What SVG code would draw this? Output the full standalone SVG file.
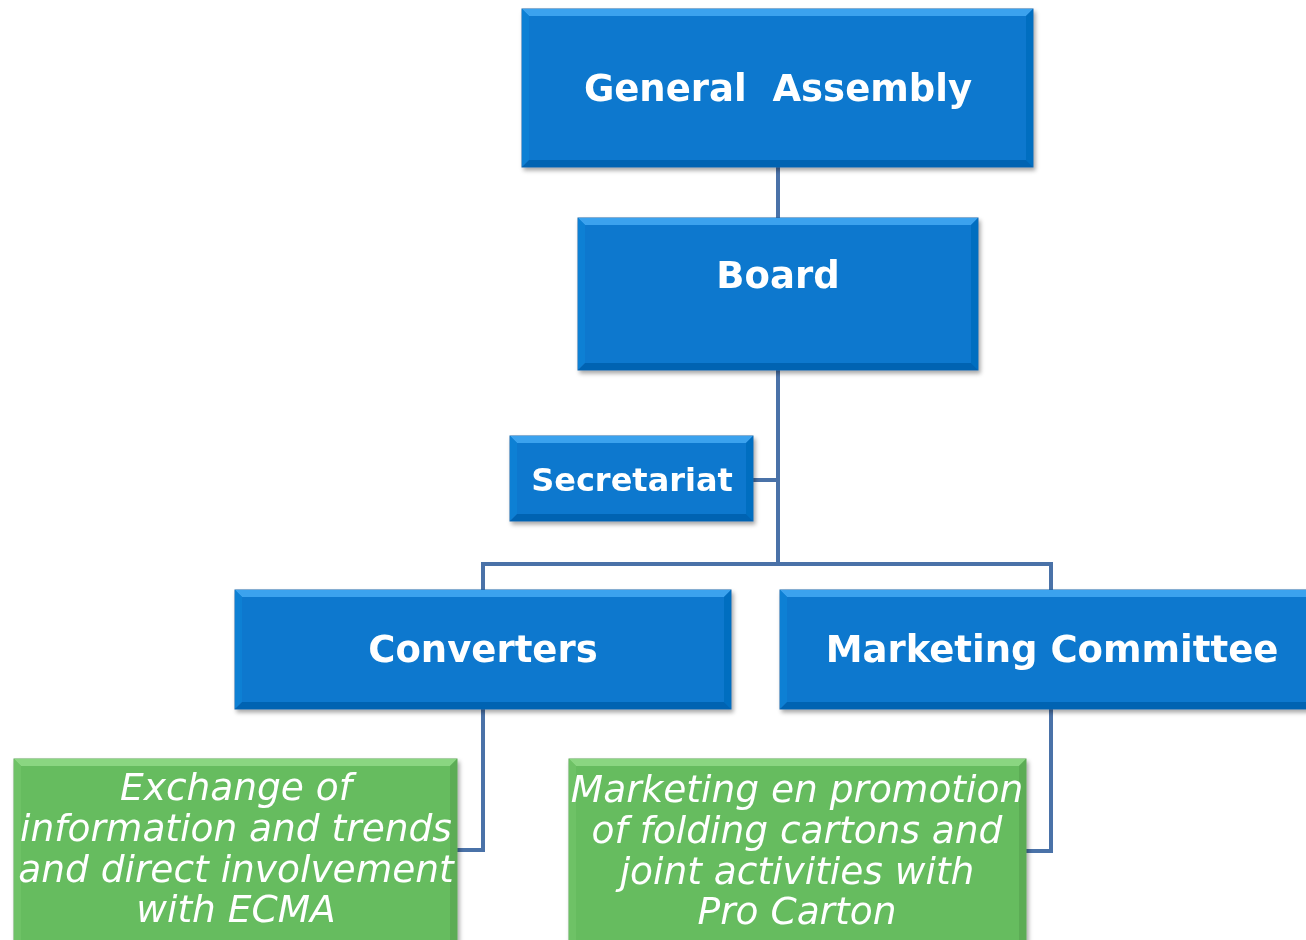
<svg xmlns="http://www.w3.org/2000/svg" width="1306" height="940" viewBox="0 0 1306 940">
<defs>
<filter id="sh" x="-5%" y="-5%" width="115%" height="120%">
<feDropShadow dx="2" dy="3" stdDeviation="2" flood-color="#000" flood-opacity="0.35"/>
</filter>
<style>
.bm{fill:#0778CE;stroke:#1565A8;stroke-width:1}
.bt{fill:#3AA2EE}.bl{fill:#0F80D4}.br{fill:#066EC0}.bb{fill:#0563B2}
.gm{fill:#66BC5F;stroke:#5AA452;stroke-width:1}
.gt{fill:#8AD681}.gl{fill:#6EC266}.gr{fill:#5BAC54}.gb{fill:#559F4E}
.lbl{font-family:"DejaVu Sans",Verdana,sans-serif;font-weight:bold;fill:#fff;text-anchor:middle}
.itl{font-family:"DejaVu Sans",Verdana,sans-serif;font-style:italic;fill:#fff;text-anchor:middle;font-size:37.5px}
.con{fill:none;stroke:#4A72A8;stroke-width:4}
</style>
</defs>
<rect width="1306" height="940" fill="#fff"/>
<g id="connectors">
<line class="con" x1="778" y1="167" x2="778" y2="218"/>
<line class="con" x1="778" y1="370" x2="778" y2="564"/>
<line class="con" x1="753" y1="480" x2="778" y2="480"/>
<polyline class="con" points="483,590 483,564 1051,564 1051,590"/>
<polyline class="con" points="483,709 483,850 457,850"/>
<polyline class="con" points="1051,709 1051,851 1026,851"/>
</g>
<g id="general-assembly" filter="url(#sh)">
<rect class="bm" x="522" y="9" width="511" height="158"/>
<polygon class="bt" points="522,9 1033,9 1026,16 529,16"/>
<polygon class="bl" points="522,9 529,16 529,160 522,167"/>
<polygon class="br" points="1033,9 1026,16 1026,160 1033,167"/>
<polygon class="bb" points="522,167 529,160 1026,160 1033,167"/>
<text class="lbl" x="778" y="101" font-size="37" xml:space="preserve">General  Assembly</text>
</g>
<g id="board" filter="url(#sh)">
<rect class="bm" x="578" y="218" width="400" height="152"/>
<polygon class="bt" points="578,218 978,218 971,225 585,225"/>
<polygon class="bl" points="578,218 585,225 585,363 578,370"/>
<polygon class="br" points="978,218 971,225 971,363 978,370"/>
<polygon class="bb" points="578,370 585,363 971,363 978,370"/>
<text class="lbl" x="778" y="288" font-size="37">Board</text>
</g>
<g id="secretariat" filter="url(#sh)">
<rect class="bm" x="510" y="436" width="243" height="85"/>
<polygon class="bt" points="510,436 753,436 746,443 517,443"/>
<polygon class="bl" points="510,436 517,443 517,514 510,521"/>
<polygon class="br" points="753,436 746,443 746,514 753,521"/>
<polygon class="bb" points="510,521 517,514 746,514 753,521"/>
<text class="lbl" x="632" y="491" font-size="32">Secretariat</text>
</g>
<g id="converters" filter="url(#sh)">
<rect class="bm" x="235" y="590" width="496" height="119"/>
<polygon class="bt" points="235,590 731,590 724,597 242,597"/>
<polygon class="bl" points="235,590 242,597 242,702 235,709"/>
<polygon class="br" points="731,590 724,597 724,702 731,709"/>
<polygon class="bb" points="235,709 242,702 724,702 731,709"/>
<text class="lbl" x="483" y="662" font-size="37">Converters</text>
</g>
<g id="marketing-committee" filter="url(#sh)">
<rect class="bm" x="780" y="590" width="540" height="119"/>
<polygon class="bt" points="780,590 1320,590 1313,597 787,597"/>
<polygon class="bl" points="780,590 787,597 787,702 780,709"/>
<polygon class="bb" points="780,709 787,702 1313,702 1320,709"/>
<text class="lbl" x="1052" y="662" font-size="37">Marketing Committee</text>
</g>
<g id="converters-task" filter="url(#sh)">
<rect class="gm" x="14" y="759" width="443" height="195"/>
<polygon class="gt" points="14,759 457,759 450,766 21,766"/>
<polygon class="gl" points="14,759 21,766 21,947 14,954"/>
<polygon class="gr" points="457,759 450,766 450,947 457,954"/>
<text class="itl" x="236" y="800">Exchange of</text>
<text class="itl" x="236" y="841">information and trends</text>
<text class="itl" x="236" y="882">and direct involvement</text>
<text class="itl" x="236" y="922">with ECMA</text>
</g>
<g id="marketing-task" filter="url(#sh)">
<rect class="gm" x="569" y="759" width="457" height="195"/>
<polygon class="gt" points="569,759 1026,759 1019,766 576,766"/>
<polygon class="gl" points="569,759 576,766 576,947 569,954"/>
<polygon class="gr" points="1026,759 1019,766 1019,947 1026,954"/>
<text class="itl" x="797" y="802">Marketing en promotion</text>
<text class="itl" x="797" y="843">of folding cartons and</text>
<text class="itl" x="797" y="884">joint activities with</text>
<text class="itl" x="797" y="924">Pro Carton</text>
</g>
</svg>
